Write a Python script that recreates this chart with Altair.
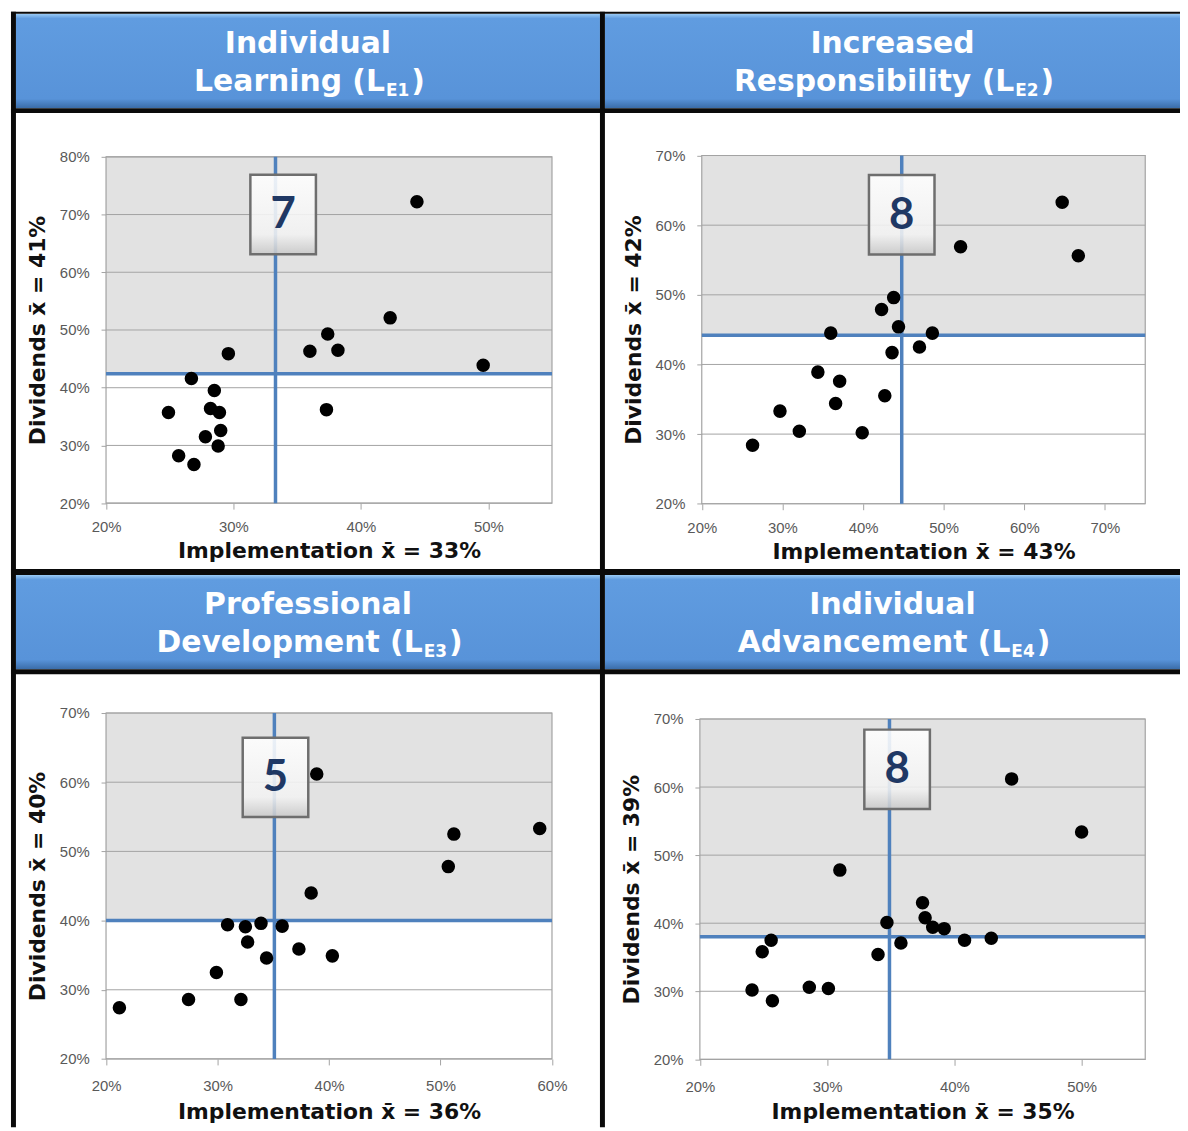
import altair as alt
import pandas as pd

# ---------------- data ----------------
impl_LE1 = [44.4, 42.3, 37.4, 36.0, 38.2, 49.6, 29.6, 26.7, 28.5, 24.9, 28.2, 28.9, 29.0, 27.8, 28.8, 25.7, 26.9, 37.3]
div_LE1 = [72.2, 52.1, 49.3, 46.3, 46.5, 43.9, 45.9, 41.6, 39.5, 35.7, 36.4, 35.7, 32.6, 31.5, 29.9, 28.2, 26.7, 36.2]
impl_LE2 = [64.7, 66.7, 52.1, 43.8, 42.3, 44.4, 36.0, 48.6, 47.0, 43.6, 34.4, 37.1, 36.6, 42.7, 29.7, 32.1, 39.9, 26.3]
div_LE2 = [63.3, 55.6, 56.9, 49.6, 47.9, 45.4, 44.5, 44.5, 42.5, 41.7, 38.9, 37.6, 34.4, 35.5, 33.3, 30.4, 30.2, 28.4]
impl_LE3 = [58.9, 51.2, 50.7, 38.9, 38.4, 30.9, 32.5, 33.9, 35.8, 32.7, 37.3, 34.4, 40.3, 29.9, 27.4, 32.1, 21.2]
div_LE3 = [53.3, 52.5, 47.8, 61.2, 44.0, 39.4, 39.1, 39.6, 39.2, 36.9, 35.9, 34.6, 34.9, 32.5, 28.6, 28.6, 27.4]
impl_LE4 = [44.5, 50.0, 31.0, 37.5, 37.7, 34.7, 38.3, 39.2, 40.8, 42.9, 35.8, 25.6, 24.9, 34.0, 24.1, 28.6, 30.1, 25.7]
div_LE4 = [61.2, 53.4, 47.8, 43.0, 40.8, 40.1, 39.4, 39.2, 37.5, 37.8, 37.1, 37.5, 35.8, 35.4, 30.2, 30.6, 30.4, 28.6]

impl_series = [impl_LE1, impl_LE2, impl_LE3, impl_LE4]
div_series = [div_LE1, div_LE2, div_LE3, div_LE4]

impl_mean_line = [33.3, 44.8, 35.1, 34.9]
div_mean_line = [42.4, 44.2, 40.0, 38.0]

x_domains = [[20, 55], [20, 75], [20, 60], [20, 55]]
y_domains = [[20, 80], [20, 70], [20, 70], [20, 70]]
x_ticks = [[20, 30, 40, 50], [20, 30, 40, 50, 60, 70], [20, 30, 40, 50, 60], [20, 30, 40, 50]]
y_ticks = [[20, 30, 40, 50, 60, 70, 80], [20, 30, 40, 50, 60, 70],
           [20, 30, 40, 50, 60, 70], [20, 30, 40, 50, 60, 70]]

box_numbers = ["7", "8", "5", "8"]
box_x = [33.9, 44.8, 35.2, 35.5]
box_y = [70.0, 61.5, 60.7, 62.6]

XBAR = "x\u0304"
x_titles = ["Implementation " + XBAR + " = 33%", "Implementation  " + XBAR + " = 43%",
            "Implementation  " + XBAR + " = 36%", "Implementation  " + XBAR + " = 35%"]
y_titles = ["Dividends  " + XBAR + " = 41%", "Dividends  " + XBAR + " = 42%",
            "Dividends  " + XBAR + " = 40%", "Dividends  " + XBAR + " = 39%"]

header_line1 = ["Individual", "Increased", "Professional", "Individual"]
header_line2 = ["Learning (L", "Responsibility (L", "Development (L", "Advancement (L"]
header_sub = ["E1", "E2", "E3", "E4"]

# ---------------- layout (pixels, chart coordinates) ----------------
W, H = 1180, 1123
PLOT_X = [(98.7, 547.7), (698.5, 1145.0), (98.7, 547.7), (696.6, 1145.0)]
PLOT_Y = [(494.7, 146.0), (495.3, 144.7), (1054.3, 706.0), (1054.7, 712.0)]
HEADER_X = [(8, 596), (601, 1180), (8, 596), (601, 1180)]
HEADER_Y = [(2, 97), (2, 97), (567, 662), (567, 662)]
X_LABEL_PAD = [11, 11, 14, 14]
X_TITLE_PAD = [6, 6, 8, 8]

BLUE = "#4F81BD"
GRID = "#A3A3A3"
SHADE = "#E2E2E2"
HEAD_FONT = "DejaVu Sans"
HEAD_SIZE = 30
SUB_SIZE = 17

DV_W = {'A': .774, 'D': .830, 'E': .683, 'I': .372, 'L': .637, 'P': .733, 'R': .770,
        'a': .675, 'b': .716, 'c': .593, 'd': .716, 'e': .678, 'g': .716, 'i': .343, 'l': .343,
        'm': 1.042, 'n': .712, 'o': .687, 'p': .716, 'r': .493, 's': .595, 't': .478, 'u': .712,
        'v': .652, 'y': .652, 'f': .435, '(': .457, ')': .457, ' ': .348}


def text_w(s, size):
    return sum(DV_W.get(c, .696) for c in s) * size


dummy = pd.DataFrame({"k": [0]})


def deco_rect(x0, x1, y0, y1, fill, **kw):
    return alt.Chart(dummy).mark_rect(fill=fill, **kw).encode(
        x=alt.value(x0), x2=alt.value(x1), y=alt.value(y0), y2=alt.value(y1))


def deco_text(txt, x, y, size, align="center", color="white"):
    return alt.Chart(dummy).mark_text(
        text=txt, font=HEAD_FONT, fontSize=size, fontWeight="bold", align=align,
        baseline="alphabetic", color=color
    ).encode(x=alt.value(x), y=alt.value(y))


def panel(i):
    xd, yd = x_domains[i], y_domains[i]
    xr, yr = PLOT_X[i], PLOT_Y[i]
    xs = alt.Scale(domain=xd, range=list(xr), nice=False, zero=False)
    ys = alt.Scale(domain=yd, range=list(yr), nice=False, zero=False)
    xax = alt.Axis(orient="bottom", offset=yr[0] - H, values=x_ticks[i],
                   labelExpr="datum.value + '%'", grid=False, domain=False,
                   ticks=True, tickSize=6, tickColor=GRID, tickWidth=1,
                   labelFont="Liberation Sans", labelFontSize=15, labelColor="#595959",
                   labelPadding=X_LABEL_PAD[i], labelFlush=False, labelOverlap=False,
                   title=x_titles[i], titleFont="DejaVu Sans", titleFontSize=22,
                   titleFontWeight="bold", titleColor="#111111", titlePadding=X_TITLE_PAD[i])
    yax = alt.Axis(orient="left", offset=-xr[0], values=y_ticks[i],
                   labelExpr="datum.value + '%'", grid=False, domain=False,
                   ticks=True, tickSize=5, tickColor=GRID, tickWidth=1,
                   labelFont="Liberation Sans", labelFontSize=15, labelColor="#595959",
                   labelPadding=12, labelFlush=False, labelOverlap=False,
                   title=y_titles[i], titleFont="DejaVu Sans", titleFontSize=22,
                   titleFontWeight="bold", titleColor="#111111", titlePadding=10)

    def X(f):
        return alt.X(f, type="quantitative", scale=xs, axis=xax)

    def Y(f):
        return alt.Y(f, type="quantitative", scale=ys, axis=yax)

    pts = pd.DataFrame({"impl": impl_series[i], "div": div_series[i]})

    shade = alt.Chart(pd.DataFrame({"x0": [xd[0]], "x1": [xd[1]], "y0": [div_mean_line[i]], "y1": [yd[1]]})
                      ).mark_rect(fill=SHADE).encode(x=X("x0"), x2="x1", y=Y("y0"), y2="y1")
    grid = alt.Chart(pd.DataFrame({"y": y_ticks[i], "x0": xd[0], "x1": xd[1]})
                     ).mark_rule(color=GRID, strokeWidth=1).encode(x=X("x0"), x2="x1", y=Y("y"))
    frame = alt.Chart(pd.DataFrame({"x0": [xd[0]], "x1": [xd[1]], "y0": [yd[0]], "y1": [yd[1]]})
                      ).mark_rect(fillOpacity=0, stroke=GRID, strokeWidth=1.2
                                  ).encode(x=X("x0"), x2="x1", y=Y("y0"), y2="y1")
    vline = alt.Chart(pd.DataFrame({"x": [impl_mean_line[i]], "y0": [yd[0]], "y1": [yd[1]]})
                      ).mark_rule(color=BLUE, strokeWidth=3.5).encode(x=X("x"), y=Y("y0"), y2="y1")
    hline = alt.Chart(pd.DataFrame({"y": [div_mean_line[i]], "x0": [xd[0]], "x1": [xd[1]]})
                      ).mark_rule(color=BLUE, strokeWidth=3.5).encode(x=X("x0"), x2="x1", y=Y("y"))
    dots = alt.Chart(pts).mark_circle(size=185, color="black", opacity=1).encode(
        x=X("impl"), y=Y("div"))

    # number box (66 x 80 px) centred on its point
    px_x = (xr[1] - xr[0]) / (xd[1] - xd[0])
    px_y = (yr[0] - yr[1]) / (yd[1] - yd[0])
    hw, hh = 33 / px_x, 40 / px_y
    bdf = pd.DataFrame({"x0": [box_x[i] - hw], "x1": [box_x[i] + hw],
                        "y0": [box_y[i] - hh], "y1": [box_y[i] + hh],
                        "bx": [box_x[i]], "by": [box_y[i]], "n": [box_numbers[i]]})
    grad = alt.LinearGradient(gradient="linear", x1=0, x2=0, y1=0, y2=1, stops=[
        alt.GradientStop(offset=0, color="#FFFFFF"),
        alt.GradientStop(offset=0.75, color="#F2F2F2"),
        alt.GradientStop(offset=1, color="#C8C8C8")])
    box = alt.Chart(bdf).mark_rect(fill=grad, fillOpacity=0.88, stroke="#6E6E6E", strokeWidth=2.5
                                   ).encode(x=X("x0"), x2="x1", y=Y("y0"), y2="y1")
    num = alt.Chart(bdf).mark_text(font="Lato", fontSize=44, fontWeight="bold", color="#1F3864",
                                   baseline="middle", dy=1).encode(x=X("bx"), y=Y("by"), text="n:N")
    return alt.layer(shade, grid, frame, vline, hline, dots, box, num)


decos = []
# header backgrounds
hgrad = alt.LinearGradient(gradient="linear", x1=0, x2=0, y1=0, y2=1, stops=[
    alt.GradientStop(offset=0, color="#9ACBF6"),
    alt.GradientStop(offset=0.05, color="#609CE0"),
    alt.GradientStop(offset=0.9, color="#5893D9"),
    alt.GradientStop(offset=1, color="#3A6CA8")])
for i in range(4):
    decos.append(deco_rect(HEADER_X[i][0], HEADER_X[i][1], HEADER_Y[i][0], HEADER_Y[i][1], hgrad))

# black frame lines
BLACK = "#0A0A0A"
decos.append(deco_rect(3, W, 0, 2, BLACK))
decos.append(deco_rect(3, W, 97, 102, BLACK))
decos.append(deco_rect(3, W, 561, 567, BLACK))
decos.append(deco_rect(3, W, 662, 667, BLACK))
decos.append(deco_rect(3, 8, 0, H, BLACK))
decos.append(deco_rect(596, 601, 0, H, BLACK))

# header texts
for i in range(4):
    cx = (HEADER_X[i][0] + HEADER_X[i][1]) / 2
    top = HEADER_Y[i][0]
    decos.append(deco_text(header_line1[i], cx, top + 39, HEAD_SIZE))
    wm = text_w(header_line2[i], HEAD_SIZE)
    ws = text_w(header_sub[i], SUB_SIZE)
    wp = text_w(")", HEAD_SIZE)
    total = wm + ws + wp
    anchor = cx - total / 2 + wm
    base2 = top + 78
    decos.append(deco_text(header_line2[i], anchor, base2, HEAD_SIZE, align="right"))
    decos.append(deco_text(header_sub[i], anchor + 1, base2 + 5, SUB_SIZE, align="left"))
    decos.append(deco_text(")", anchor + ws + 3, base2, HEAD_SIZE, align="left"))

panels = [panel(i) for i in range(4)]

chart = alt.layer(*decos, *panels).resolve_scale(
    x="independent", y="independent").resolve_axis(x="independent", y="independent").properties(
    width=W, height=H, padding=0, background="white").configure_view(stroke="transparent")

chart.save("out.html", embed_options={"renderer": "svg", "actions": False})
